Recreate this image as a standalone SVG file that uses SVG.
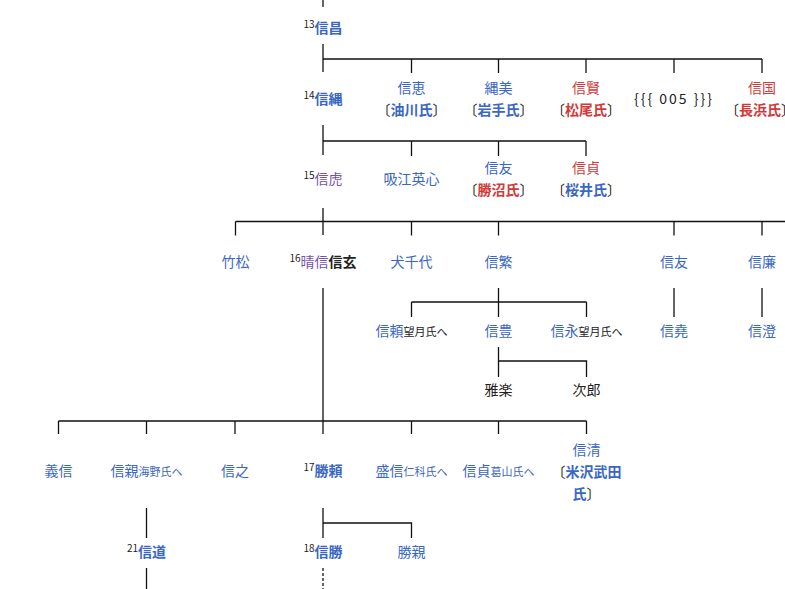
<svg xmlns="http://www.w3.org/2000/svg" width="785" height="589" viewBox="0 0 785 589">
<style>
text{font-family:"Noto Sans CJK JP","Noto Sans CJK SC",sans-serif;font-size:14px;text-anchor:middle;fill:#222}
.b{fill:#3b67c2}.r{fill:#d23a3a}.p{fill:#7552ad}.k{fill:#222}
.w{font-weight:bold}
.sm{font-size:11px}
.sup{font-size:10px}
.lat{letter-spacing:2px}
.ln{fill:none;stroke:#111;stroke-width:1.3}
.dot{fill:none;stroke:#111;stroke-width:1.3;stroke-dasharray:3 2}
</style>
<rect width="785" height="589" fill="#fff"/>
<g id="connectors">
<path class="ln" d="M323 0V7M323 44V72M323 59H762M411.5 59V73M498.5 59V73M586 59V73M674 59V73M762 59V73"/>
<path class="ln" d="M323 125V155M323 141H586M411.5 141V156M498.5 141V156M586 141V156"/>
<path class="ln" d="M323 208V235M235.5 221.5H785M235.5 221.5V235.5M411.5 221.5V235.5M498.5 221.5V235.5M674 221.5V235.5M762 221.5V235.5"/>
<path class="ln" d="M498.5 288V317M411.5 302H586.5M411.5 302V317M586.5 302V317M674 288V317M762 288V317"/>
<path class="ln" d="M498.5 347V377M498.5 361H586.5V377"/>
<path class="ln" d="M323 288V434M58.5 421H586.5M58.5 421V434M146.5 421V434M235 421V434M411.5 421V434M498.5 421V434M586.5 421V434"/>
<path class="ln" d="M146.5 508V538M323 508V538M323 523H411.5V538M146.5 568V589"/>
<path class="dot" d="M323 568V589"/>
</g>
<g id="n13"><text x="323" y="33"><tspan class="sup k" dy="-5">13</tspan><tspan class="b w" dy="5">信昌</tspan></text></g>
<g id="n14"><text x="323" y="104"><tspan class="sup k" dy="-5">14</tspan><tspan class="b w" dy="5">信縄</tspan></text></g>
<g id="n-nobushige"><text x="411.5" y="93" class="b">信恵</text><text x="411.5" y="115">〔<tspan class="b w">油川氏</tspan>〕</text></g>
<g id="n-tsunayoshi"><text x="498.5" y="93" class="b">縄美</text><text x="498.5" y="115">〔<tspan class="b w">岩手氏</tspan>〕</text></g>
<g id="n-nobukata"><text x="586" y="93" class="r">信賢</text><text x="586" y="115">〔<tspan class="r w">松尾氏</tspan>〕</text></g>
<g id="n-005"><text x="674" y="104" class="k lat">{{{ 005 }}}</text></g>
<g id="n-nobukuni"><text x="762" y="93" class="r">信国</text><text x="760" y="115">〔<tspan class="r w">長浜氏</tspan>〕</text></g>
<g id="n15"><text x="323" y="184"><tspan class="sup k" dy="-5">15</tspan><tspan class="p" dy="5">信虎</tspan></text></g>
<g id="n-kyuko"><text x="411.5" y="184" class="b">吸江英心</text></g>
<g id="n-nobutomo1"><text x="498.5" y="173" class="b">信友</text><text x="498.5" y="195">〔<tspan class="r w">勝沼氏</tspan>〕</text></g>
<g id="n-nobusada1"><text x="586" y="173" class="r">信貞</text><text x="586" y="195">〔<tspan class="b w">桜井氏</tspan>〕</text></g>
<g id="n-takematsu"><text x="235.5" y="267" class="b">竹松</text></g>
<g id="n16"><text x="323" y="267"><tspan class="sup k" dy="-5">16</tspan><tspan class="p" dy="5">晴信</tspan><tspan class="k w">信玄</tspan></text></g>
<g id="n-inuchiyo"><text x="411.5" y="267" class="b">犬千代</text></g>
<g id="n-nobushige2"><text x="498.5" y="267" class="b">信繁</text></g>
<g id="n-nobutomo2"><text x="674" y="267" class="b">信友</text></g>
<g id="n-nobukado"><text x="762" y="267" class="b">信廉</text></g>
<g id="n-nobuyori"><text x="411.5" y="336"><tspan class="b">信頼</tspan><tspan class="sm k">望月氏へ</tspan></text></g>
<g id="n-nobutoyo"><text x="498.5" y="336" class="b">信豊</text></g>
<g id="n-nobunaga"><text x="586.5" y="336"><tspan class="b">信永</tspan><tspan class="sm k">望月氏へ</tspan></text></g>
<g id="n-nobutaka"><text x="674" y="336" class="b">信堯</text></g>
<g id="n-nobuzumi"><text x="762" y="336" class="b">信澄</text></g>
<g id="n-uta"><text x="498.5" y="395" class="k">雅楽</text></g>
<g id="n-jiro"><text x="586.5" y="395" class="k">次郎</text></g>
<g id="n-yoshinobu"><text x="58.5" y="476" class="b">義信</text></g>
<g id="n-nobuchika"><text x="146.5" y="476"><tspan class="b">信親</tspan><tspan class="sm b">海野氏へ</tspan></text></g>
<g id="n-nobuyuki"><text x="235" y="476" class="b">信之</text></g>
<g id="n17"><text x="323" y="476"><tspan class="sup k" dy="-5">17</tspan><tspan class="b w" dy="5">勝頼</tspan></text></g>
<g id="n-morinobu"><text x="411.5" y="476"><tspan class="b">盛信</tspan><tspan class="sm b">仁科氏へ</tspan></text></g>
<g id="n-nobusada2"><text x="498.5" y="476"><tspan class="b">信貞</tspan><tspan class="sm b">葛山氏へ</tspan></text></g>
<g id="n-nobukiyo"><text x="586.5" y="455" class="b">信清</text><text x="586.5" y="477">〔<tspan class="b w">米沢武田</tspan></text><text x="586.5" y="499"><tspan class="b w">氏</tspan>〕</text></g>
<g id="n21"><text x="146.5" y="557"><tspan class="sup k" dy="-5">21</tspan><tspan class="b w" dy="5">信道</tspan></text></g>
<g id="n18"><text x="323" y="557"><tspan class="sup k" dy="-5">18</tspan><tspan class="b w" dy="5">信勝</tspan></text></g>
<g id="n-katsuchika"><text x="411.5" y="557" class="b">勝親</text></g>
</svg>
